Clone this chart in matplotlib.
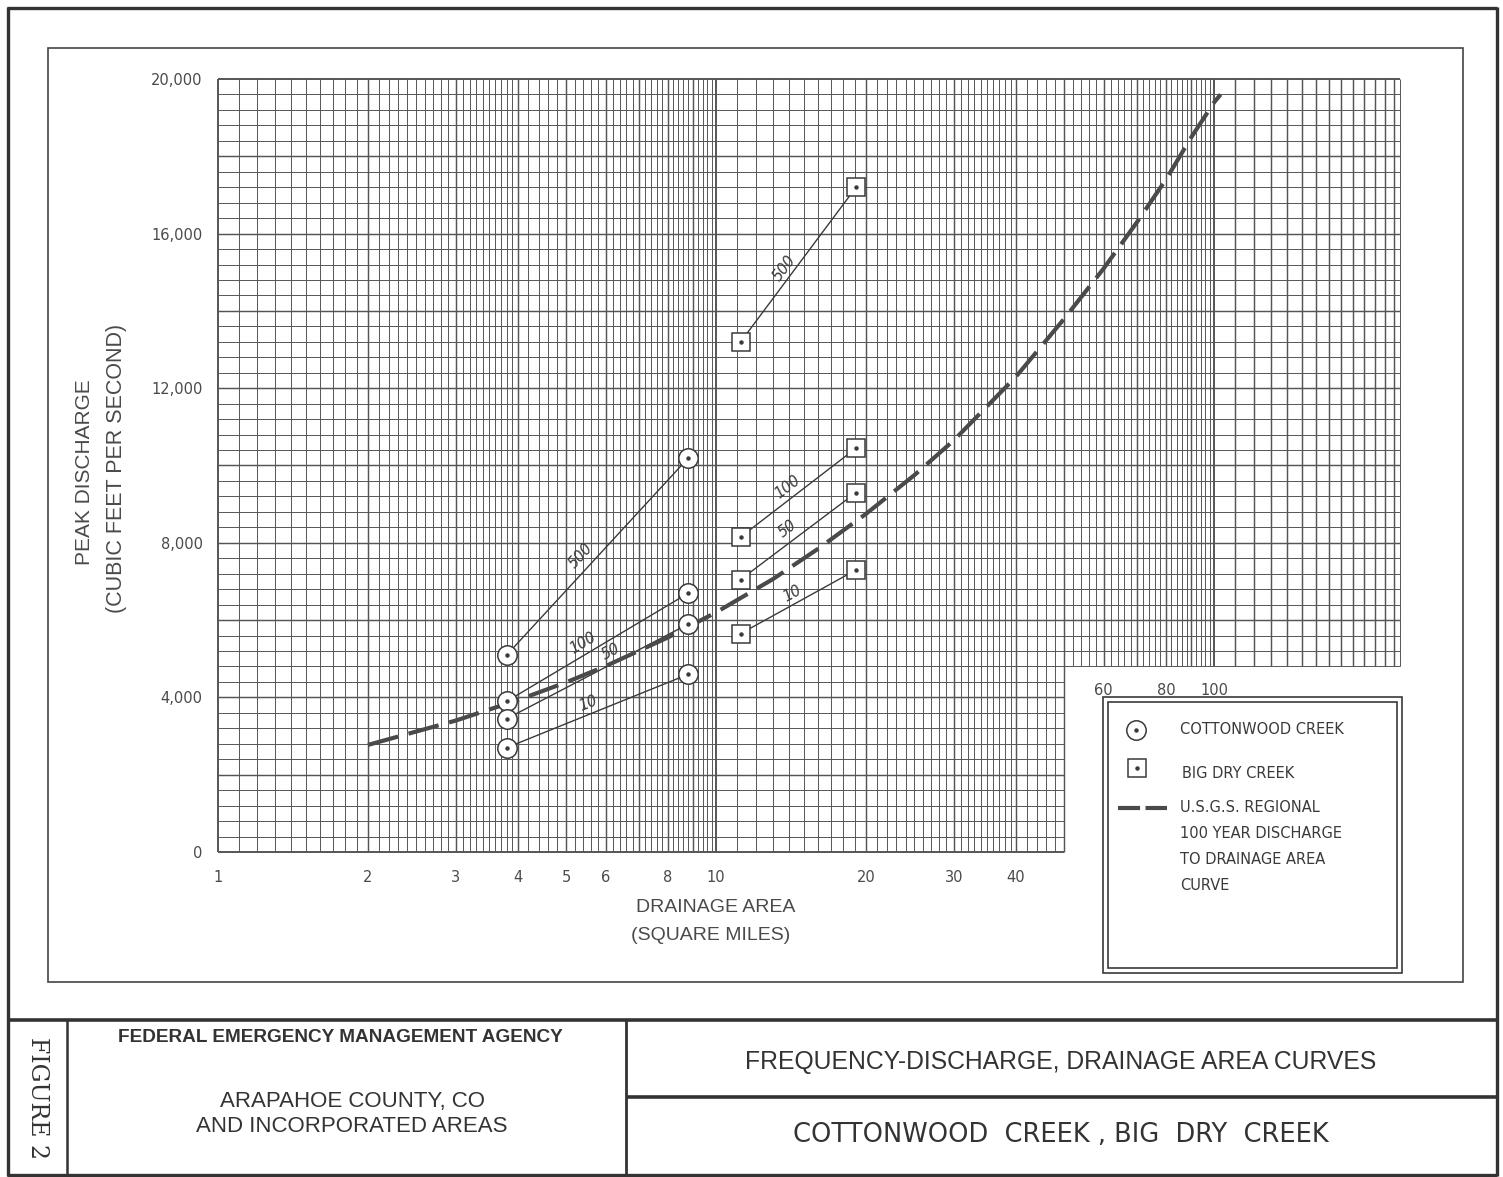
import numpy as np
import matplotlib
matplotlib.use("Agg")
import matplotlib.pyplot as plt
from matplotlib.patches import Rectangle

# ---------------------------------------------------------------- data
# drainage areas (square miles) of the two gauged reaches
cottonwood_area = [3.8, 8.8]
big_dry_area = [11.2, 19.1]

# peak discharge (cfs) for each recurrence interval
cottonwood_q10 = [2700, 4600]
cottonwood_q50 = [3450, 5900]
cottonwood_q100 = [3900, 6700]
cottonwood_q500 = [5100, 10200]

big_dry_q10 = [5650, 7300]
big_dry_q50 = [7050, 9300]
big_dry_q100 = [8150, 10450]
big_dry_q500 = [13200, 17200]

# U.S.G.S. regional 100-year discharge vs drainage area
usgs_area = [2.0, 3.0, 4.0, 5.0, 6.0, 8.0, 10.0, 13.0, 16.0, 20.0, 25.0,
             30.0, 40.0, 50.0, 60.0, 70.0, 80.0, 90.0, 100.0, 103.0]
usgs_q = [2770, 3400, 3930, 4390, 4810, 5550, 6200, 7060, 7840, 8750, 9750,
          10650, 12300, 13800, 15100, 16300, 17400, 18500, 19400, 19600]

x_ticks = [1, 2, 3, 4, 5, 6, 8, 10, 20, 30, 40]
x_ticks_upper = [60, 80, 100]
y_ticks = [0, 4000, 8000, 12000, 16000, 20000]

# ---------------------------------------------------------------- style
INK = "#3a3a3a"
GRID = "#555555"
TXT = "#4a4a4a"
NARROW = ["Liberation Sans Narrow", "Liberation Sans", "DejaVu Sans"]
plt.rcParams["font.family"] = ["DejaVu Sans"]

W, H = 1503, 1177
fig = plt.figure(figsize=(W / 100, H / 100), dpi=100)
fig.patch.set_facecolor("white")

# page overlay in pixel units for the sheet frame and title block
page = fig.add_axes([0, 0, 1, 1], zorder=0)
page.set_xlim(0, W)
page.set_ylim(H, 0)
page.axis("off")

# ---------------------------------------------------------------- plot axes
X_MAX = 236.0
left, right, top, bottom = 218, 1400, 79, 852
ax = fig.add_axes([left / W, 1 - bottom / H, (right - left) / W, (bottom - top) / H],
                  zorder=2)
ax.set_facecolor("none")
ax.set_xscale("log")
ax.set_xlim(1, X_MAX)
ax.set_ylim(0, 20000)
for s in ax.spines.values():
    s.set_visible(False)
ax.minorticks_off()

# semi-log graph paper
CUT_X, CUT_Y = 50, 4800
xs_grid = np.concatenate([
    np.round(np.arange(1.0, 4.0, 0.1), 2),
    np.round(np.arange(4.0, 10.0, 0.2), 2),
    np.arange(10, 40, 1),
    np.arange(40, 100, 2),
    np.arange(100, 240, 10),
]).astype(float)
xs_grid = np.append(xs_grid[xs_grid < X_MAX], X_MAX)
for xv in xs_grid:
    ybot = 0 if xv <= CUT_X + 1e-9 else CUT_Y
    heavy = abs(xv - round(xv)) < 1e-6 and (xv <= 10 or xv % 10 == 0)
    lw = 1.05 if heavy else 0.7
    if xv in (1, 10, 100):
        lw = 1.4
    ax.plot([xv, xv], [ybot, 20000], color=GRID, lw=lw, clip_on=False, zorder=1,
            solid_capstyle="butt")
for yv in np.arange(0, 20001, 400):
    xr = X_MAX if yv >= CUT_Y else CUT_X
    lw = 1.05 if yv % 2000 == 0 else 0.7
    if yv in (0, 20000):
        lw = 1.4
    ax.plot([1, xr], [yv, yv], color=GRID, lw=lw, clip_on=False, zorder=1,
            solid_capstyle="butt")

# ticks
ax.set_xticks(x_ticks)
ax.set_xticklabels([str(v) for v in x_ticks])
ax.set_yticks(y_ticks)
ax.set_yticklabels([f"{v:,}" for v in y_ticks])
ax.tick_params(axis="both", length=0, labelsize=10.5, labelcolor=TXT)
ax.tick_params(axis="x", pad=13)
ax.tick_params(axis="y", pad=11)
for v in x_ticks_upper:
    ax.annotate(str(v), (v, CUT_Y), xytext=(0, -12), textcoords="offset points",
                ha="center", va="top", fontsize=10.5, color=TXT)

# axis titles
page.text(85, 472, "PEAK DISCHARGE", rotation=90, ha="center", va="center",
          fontsize=15, color=TXT, family=NARROW)
page.text(117, 468, "(CUBIC FEET PER SECOND)", rotation=90, ha="center",
          va="center", fontsize=15.5, color=TXT, family=NARROW)
page.text(716, 908, "DRAINAGE AREA", ha="center", va="center", fontsize=14,
          color=TXT, family=NARROW)
page.text(711, 935, "(SQUARE MILES)", ha="center", va="center", fontsize=14,
          color=TXT, family=NARROW)

# ---------------------------------------------------------------- curves
ax.plot(usgs_area, usgs_q, color="#4a4a4a", lw=3.0, linestyle=(0, (7.5, 2.6)),
        zorder=4, solid_capstyle="butt", dash_capstyle="butt")


def label_along(xs, ys, text, t, off):
    p0 = ax.transData.transform((xs[0], ys[0]))
    p1 = ax.transData.transform((xs[1], ys[1]))
    d = p1 - p0
    ang = np.degrees(np.arctan2(d[1], d[0]))
    n = np.array([-d[1], d[0]]) / np.hypot(d[0], d[1])
    pos = p0 + t * d + n * off
    xy = ax.transData.inverted().transform(pos)
    ax.text(xy[0], xy[1], text, rotation=ang, rotation_mode="anchor",
            ha="center", va="center", fontsize=10.5, color=INK, zorder=6,
            style="italic")


def gauged(xs, ys, marker, ms, text, t, off):
    ax.plot(xs, ys, color=INK, lw=1.0, zorder=3)
    ax.plot(xs, ys, linestyle="none", marker=marker, ms=ms, mfc="white",
            mec=INK, mew=1.1, zorder=5)
    ax.plot(xs, ys, linestyle="none", marker="o", ms=2.2, mfc=INK, mec=INK,
            zorder=6)
    label_along(xs, ys, text, t, off)


gauged(cottonwood_area, cottonwood_q500, "o", 14, "500", 0.46, 13)
gauged(cottonwood_area, cottonwood_q100, "o", 14, "100", 0.45, 11)
gauged(cottonwood_area, cottonwood_q50, "o", 14, "50", 0.60, 11)
gauged(cottonwood_area, cottonwood_q10, "o", 14, "10", 0.47, 11)

gauged(big_dry_area, big_dry_q500, "s", 13, "500", 0.44, 9)
gauged(big_dry_area, big_dry_q100, "s", 13, "100", 0.46, 11)
gauged(big_dry_area, big_dry_q50, "s", 13, "50", 0.47, 12)
gauged(big_dry_area, big_dry_q10, "s", 13, "10", 0.49, 10)

# ---------------------------------------------------------------- legend
for (x0, y0, x1, y1) in [(1103, 697, 1402, 973), (1108, 702, 1397, 968)]:
    page.add_patch(Rectangle((x0, y0), x1 - x0, y1 - y0, fill=False,
                             ec=INK, lw=1.2))
page.plot([1136], [730], marker="o", ms=14, mfc="white", mec=INK, mew=1.1)
page.plot([1136], [730], marker="o", ms=2.2, mfc=INK, mec=INK)
page.plot([1137], [768], marker="s", ms=13, mfc="white", mec=INK, mew=1.1)
page.plot([1137], [768], marker="o", ms=2.2, mfc=INK, mec=INK)
page.plot([1118, 1167], [808, 808], color="#4a4a4a", lw=3.0,
          linestyle=(0, (5.3, 1.3)), dash_capstyle="butt")
legend_lines = [
    (1180, 730, "COTTONWOOD CREEK"),
    (1182, 773, "BIG DRY CREEK"),
    (1180, 808, "U.S.G.S. REGIONAL"),
    (1180, 833, "100 YEAR DISCHARGE"),
    (1180, 859, "TO DRAINAGE AREA"),
    (1180, 885, "CURVE"),
]
for x, y, s in legend_lines:
    page.text(x, y, s, ha="left", va="center", fontsize=10.5, color=INK)

# ---------------------------------------------------------------- sheet frame
def hline(y, x0, x1, lw):
    page.plot([x0, x1], [y, y], color="#333333", lw=lw, solid_capstyle="butt")


def vline(x, y0, y1, lw):
    page.plot([x, x], [y0, y1], color="#333333", lw=lw, solid_capstyle="butt")


hline(8, 7, 1497, 2.4)
hline(1175, 7, 1497, 2.4)
vline(8, 7, 1176, 2.4)
vline(1497, 7, 1176, 2.4)
page.add_patch(Rectangle((48, 48), 1463 - 48, 982 - 48, fill=False,
                         ec="#444444", lw=1.2))
hline(1020, 7, 1497, 2.6)
vline(67, 1020, 1175, 1.8)
vline(626, 1020, 1175, 2.0)
hline(1097, 626, 1497, 2.6)

# ---------------------------------------------------------------- title block
page.text(37, 1098, "FIGURE 2", rotation=270, ha="center", va="center",
          fontsize=17, color="#333333",
          family=["DejaVu Serif", "Liberation Serif"])
page.text(340, 1038, "FEDERAL EMERGENCY MANAGEMENT AGENCY", ha="center",
          va="center", fontsize=13.7, fontweight="bold", color="#333333",
          family=NARROW)
page.text(352, 1102, "ARAPAHOE COUNTY, CO", ha="center", va="center",
          fontsize=16, color="#333333", family=NARROW)
page.text(352, 1126, "AND INCORPORATED AREAS", ha="center", va="center",
          fontsize=16, color="#333333", family=NARROW)
page.text(1061, 1062, "FREQUENCY-DISCHARGE, DRAINAGE AREA CURVES", ha="center",
          va="center", fontsize=17.8, color="#333333", family=NARROW)
page.text(1061, 1135, "COTTONWOOD  CREEK , BIG  DRY  CREEK", ha="center",
          va="center", fontsize=18.5, color="#333333")

fig.savefig("out.png", dpi=100, facecolor="white")
